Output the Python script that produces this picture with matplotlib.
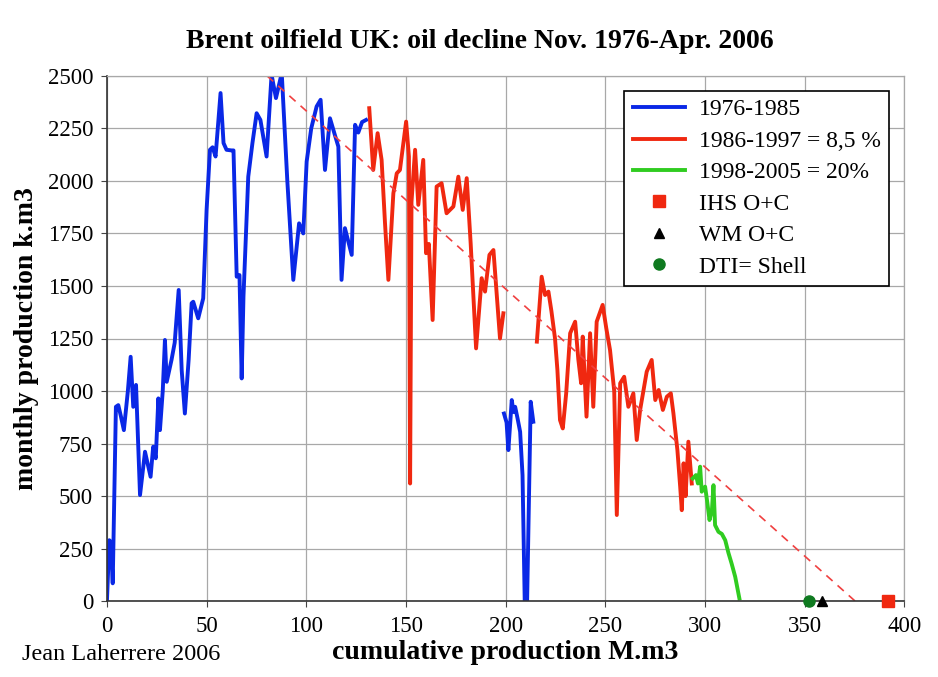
import matplotlib
matplotlib.use("Agg")
import matplotlib.pyplot as plt
import numpy as np

plt.rcParams['font.family'] = ['Liberation Serif', 'DejaVu Serif']

# 1976-1985 (blue)
blue_x = [0, 1.2, 2.0, 2.9, 4.5, 5.7, 7.0, 8.5, 10.5, 11.9, 13.2, 14.6, 16.6, 19.1, 21.9, 23.2,
          24.5, 25.8, 26.6, 28.0, 29.1, 30.0, 32.4, 34.0, 36.0, 37.5, 39.1, 41.0, 42.5, 43.3,
          45.8, 48.3, 50.0, 51.7, 53.0, 54.5, 57.0, 58.5, 60.0, 62.5, 63.5, 65.1, 66.5, 67.6,
          68.5, 70.9, 73.0, 75.1, 77.0, 80.1, 82.6, 84.8, 87.7, 90.5, 93.5, 96.4, 98.5, 100.2,
          102.5, 105.2, 107.2, 109.4, 111.9, 114.0, 116.1, 117.7, 119.4, 122.8, 124.5, 126.1,
          128.0, 130.0]
blue_y = [0, 290, 280, 85, 925, 933, 880, 814, 1000, 1163, 925, 1029, 505, 711, 592, 735,
          680, 965, 814, 1000, 1243, 1044, 1148, 1230, 1481, 1100, 893, 1150, 1418, 1425,
          1346, 1441, 1862, 2148, 2160, 2116, 2418, 2180, 2148, 2145, 2145, 1544, 1552, 1060,
          1450, 2020, 2180, 2322, 2290, 2116, 2505, 2394, 2513, 2000, 1529, 1798, 1750, 2092,
          2250, 2354, 2386, 2052, 2298, 2230, 2163, 1529, 1775, 1648, 2267, 2230,
          2280, 2290]

# second blue stretch near 200-214 M.m3
blue2_x = [199.2, 200.5, 201.4, 203.1, 204.0, 204.8, 206.0, 207.3, 208.5, 209.6, 210.8, 212.6, 213.9]
blue2_y = [893, 850, 719, 957, 900, 925, 870, 806, 600, 0, 0, 949, 854]

# 1986-1997 (red)
red_x = [131.6, 133.6, 135.8, 137.8, 139.5, 141.2, 143.7, 145.4, 147.0, 150.1, 151.5, 152.1,
         152.8, 154.6, 156.2, 158.7, 160.1, 161.5, 163.4, 165.4, 167.9, 170.4, 173.8, 176.3,
         178.5, 180.5, 182.5, 185.2, 188.0, 189.7, 191.9, 193.9, 197.2, 198.9,
         np.nan,
         215.7, 218.1, 219.8, 221.5, 223.0, 224.8, 226.0, 227.3, 228.7, 230.4, 232.4, 234.9,
         236.5, 237.9, 238.7, 240.6, 242.4, 244.0, 245.7, 248.7, 250.5, 252.4, 254.5, 255.8,
         257.5, 259.5, 261.6, 264.1, 265.8, 267.5, 270.8, 273.3, 275.1, 276.8, 278.9, 280.9,
         282.9, 284.2, 286.2, 287.6, 288.4, 289.3, 290.3, 291.7, 293.4]
red_y = [2346, 2052, 2227, 2100, 1800, 1529, 1941, 2036, 2052, 2282, 2116, 560,
         1900, 2148, 1886, 2100, 1656, 1700, 1338, 1973, 1989, 1846, 1878, 2020,
         1862, 2013, 1700, 1203, 1537, 1473, 1648, 1671, 1250, 1370,
         np.nan,
         1235, 1544, 1457, 1473, 1380, 1250, 1100, 862, 822, 989, 1275, 1330,
         1150, 1037, 1259, 878, 1275, 925, 1330, 1410, 1300, 1195, 1000, 410,
         1037, 1068, 925, 989, 767, 910, 1092, 1148, 957, 1005, 910, 973,
         989, 894, 719, 544, 433, 656, 500, 759, 560]

# 1998-2005 (green)
green_x = [293.9, 295.5, 296.5, 297.6, 298.4, 300.1, 301.2, 302.3, 303.5, 304.3, 305.1,
           306.8, 308.5, 310.2, 311.8, 313.4, 315.2, 317.3]
green_y = [584, 600, 560, 640, 521, 545, 470, 386, 430, 552, 362,
           330, 320, 290, 230, 179, 116, 13]

# 8.5 % decline trend
trend_x = [80.3, 375.4]
trend_y = [2500, 0]

# ultimate estimates
ihs_x, ihs_y = [392], [0]
wm_x, wm_y = [358.7], [0]
dti_x, dti_y = [352], [0]

fig = plt.figure(figsize=(9.38, 6.77), dpi=100)
ax = fig.add_axes([0.114, 0.112, 0.850, 0.776])

ax.plot(blue_x, blue_y, color='#0a28e6', lw=2.8, label='1976-1985')
ax.plot(blue2_x, blue2_y, color='#0a28e6', lw=2.8)
ax.plot(red_x, red_y, color='#f02810', lw=2.8, label='1986-1997 = 8,5 %')
ax.plot(green_x, green_y, color='#30cc20', lw=2.8, label='1998-2005 = 20%')
ax.plot(trend_x, trend_y, color='#f04040', lw=1.2, ls=(0, (5, 4)))

ax.plot(ihs_x, ihs_y, 's', color='#f02810', ms=8, ls='none', clip_on=False, label='IHS O+C', zorder=5)
ax.plot(wm_x, wm_y, '^', color='black', ms=7, ls='none', clip_on=False, label='WM O+C', zorder=5)
ax.plot(dti_x, dti_y, 'o', color='#0f7a20', ms=8, ls='none', clip_on=False, label='DTI= Shell', zorder=5)

ax.set_xlim(0, 400)
ax.set_ylim(0, 2500)
ax.set_xticks(np.arange(0, 401, 50))
ax.set_yticks(np.arange(0, 2501, 250))
ax.grid(True, color='#a8a8a8', lw=0.9)
ax.set_axisbelow(True)
ax.tick_params(labelsize=16.5, length=4, color='#444444')
ax.tick_params(axis='x', pad=7)
ax.tick_params(axis='y', pad=6)
for s in ['top', 'right']:
    ax.spines[s].set_color('#a8a8a8')
    ax.spines[s].set_linewidth(0.9)
for s in ['left', 'bottom']:
    ax.spines[s].set_color('#333333')
    ax.spines[s].set_linewidth(1.2)

fig.text(0.511, 0.938, 'Brent oilfield UK: oil decline Nov. 1976-Apr. 2006',
         fontsize=20, fontweight='bold', ha='center', va='center')
ax.set_xlabel('cumulative production M.m3', fontsize=20, fontweight='bold', labelpad=2)
ax.set_ylabel('monthly production k.m3', fontsize=20, fontweight='bold', labelpad=6)
fig.text(0.023, 0.049, 'Jean Laherrere 2006', fontsize=17.5, va='top')

leg = ax.legend(loc='upper left', bbox_to_anchor=(0.649, 0.972), fontsize=17, frameon=True,
                fancybox=False, edgecolor='black', framealpha=1, borderpad=0.35,
                labelspacing=0.42, handlelength=2.2, handletextpad=0.6, borderaxespad=0)
leg.get_frame().set_linewidth(1.2)

fig.savefig('out.png', dpi=100)
